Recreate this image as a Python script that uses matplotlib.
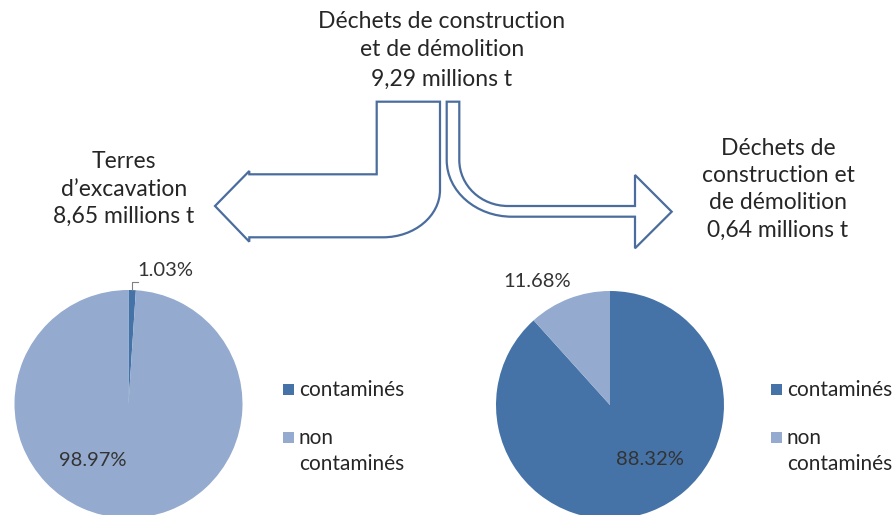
import matplotlib
matplotlib.use("Agg")
from matplotlib import pyplot as plt
from matplotlib.path import Path
from matplotlib.patches import PathPatch, Rectangle

plt.rcParams['font.family'] = ['Lato', 'DejaVu Sans']

# data
categories = ["contaminés", "non contaminés"]
legend_labels = ["contaminés", "non\ncontaminés"]
terres_share = [1.03, 98.97]
dcd_share = [88.32, 11.68]
colors = ["#4573a7", "#94aacf"]

title_top = "Déchets de construction\net de démolition\n9,29 millions t"
title_left = "Terres\nd\u2019excavation\n8,65 millions t"
title_right = "Déchets de\nconstruction et\nde démolition\n0,64 millions t"

W, H = 892, 515
fig = plt.figure(figsize=(W / 100, H / 100), dpi=100)

# overlay in pixel coords
ov = fig.add_axes([0, 0, 1, 1])
ov.set_xlim(0, W)
ov.set_ylim(H, 0)
ov.axis("off")

txt = "#262626"
ov.text(442, 50, title_top, ha="center", va="center", fontsize=16.5,
        color=txt, linespacing=1.47)
ov.text(124, 189, title_left, ha="center", va="center", fontsize=16.5,
        color=txt, linespacing=1.37)
ov.text(778, 189, title_right, ha="center", va="center", fontsize=16.5,
        color=txt, linespacing=1.37)

edge = "#4a6d9e"
k = 0.5523

# thick arrow to the left
verts = [(376.7, 101.7), (440, 101.7), (440, 190),
         (440, 190 + k * 47), (383 + k * 57, 237.3), (383, 237.3),
         (249.3, 237.3), (249.3, 241.7), (215, 206), (249.3, 171),
         (249.3, 174.3), (376.7, 174.3), (376.7, 101.7)]
codes = [Path.MOVETO, Path.LINETO, Path.LINETO,
         Path.CURVE4, Path.CURVE4, Path.CURVE4,
         Path.LINETO, Path.LINETO, Path.LINETO, Path.LINETO,
         Path.LINETO, Path.LINETO, Path.CLOSEPOLY]
ov.add_patch(PathPatch(Path(verts, codes), facecolor="white",
                       edgecolor=edge, lw=1.6, joinstyle="miter"))

# thin arrow to the right
verts = [(446.7, 101.7), (459.3, 101.7), (459.3, 160),
         (459.3, 160 + k * 46), (508 - k * 49, 206), (508, 206),
         (635, 206), (635, 175), (671.7, 211.7), (635, 248.3),
         (635, 216.7), (512, 216.7),
         (512 - k * 65, 216.7), (446.7, 160 + k * 56.7), (446.7, 160),
         (446.7, 101.7)]
codes = [Path.MOVETO, Path.LINETO, Path.LINETO,
         Path.CURVE4, Path.CURVE4, Path.CURVE4,
         Path.LINETO, Path.LINETO, Path.LINETO, Path.LINETO,
         Path.LINETO, Path.LINETO,
         Path.CURVE4, Path.CURVE4, Path.CURVE4,
         Path.CLOSEPOLY]
ov.add_patch(PathPatch(Path(verts, codes), facecolor="white",
                       edgecolor=edge, lw=1.6, joinstyle="miter"))


def pie_axes(cx, cy, r):
    return fig.add_axes([(cx - r) / W, (H - cy - r) / H, 2 * r / W, 2 * r / H])


def fix_limits(a):
    a.set_xlim(-1, 1)
    a.set_ylim(-1, 1)
    a.axis("off")


lab = "#333333"

# left pie
axl = pie_axes(128.5, 404, 114)
axl.pie(terres_share, colors=colors, startangle=90, counterclock=False,
        radius=1, wedgeprops=dict(linewidth=0))
fix_limits(axl)
axl.text(-0.31, -0.5, f"{terres_share[1]:.2f}%", ha="center", va="center",
         fontsize=14.5, color=lab)
axl.text(0.08, 1.17, f"{terres_share[0]:.2f}%", ha="left", va="center",
         fontsize=14.5, color=lab, clip_on=False)
axl.plot([0.03, 0.03, 0.08], [1.0, 1.07, 1.07], color="#7f7f7f", lw=0.8,
         clip_on=False)

# right pie
axr = pie_axes(610, 405, 114)
axr.pie(dcd_share, colors=colors, startangle=90, counterclock=False,
        radius=1, wedgeprops=dict(linewidth=0))
fix_limits(axr)
axr.text(0.35, -0.48, f"{dcd_share[0]:.2f}%", ha="center", va="center",
         fontsize=14.5, color=lab)
axr.text(-0.64, 1.08, f"{dcd_share[1]:.2f}%", ha="center", va="center",
         fontsize=14.5, color=lab, clip_on=False)

# legends
for x0 in (283, 771):
    for i, (c, t) in enumerate(zip(colors, legend_labels)):
        y = 389.5 + i * 48
        ov.add_patch(Rectangle((x0, y - 5.5), 11, 11, facecolor=c, lw=0))
        for j, line in enumerate(t.split("\n")):
            ov.text(x0 + 16, y + j * 26, line, ha="left", va="center",
                    fontsize=15, color=txt)

fig.savefig("out.png", dpi=100)
